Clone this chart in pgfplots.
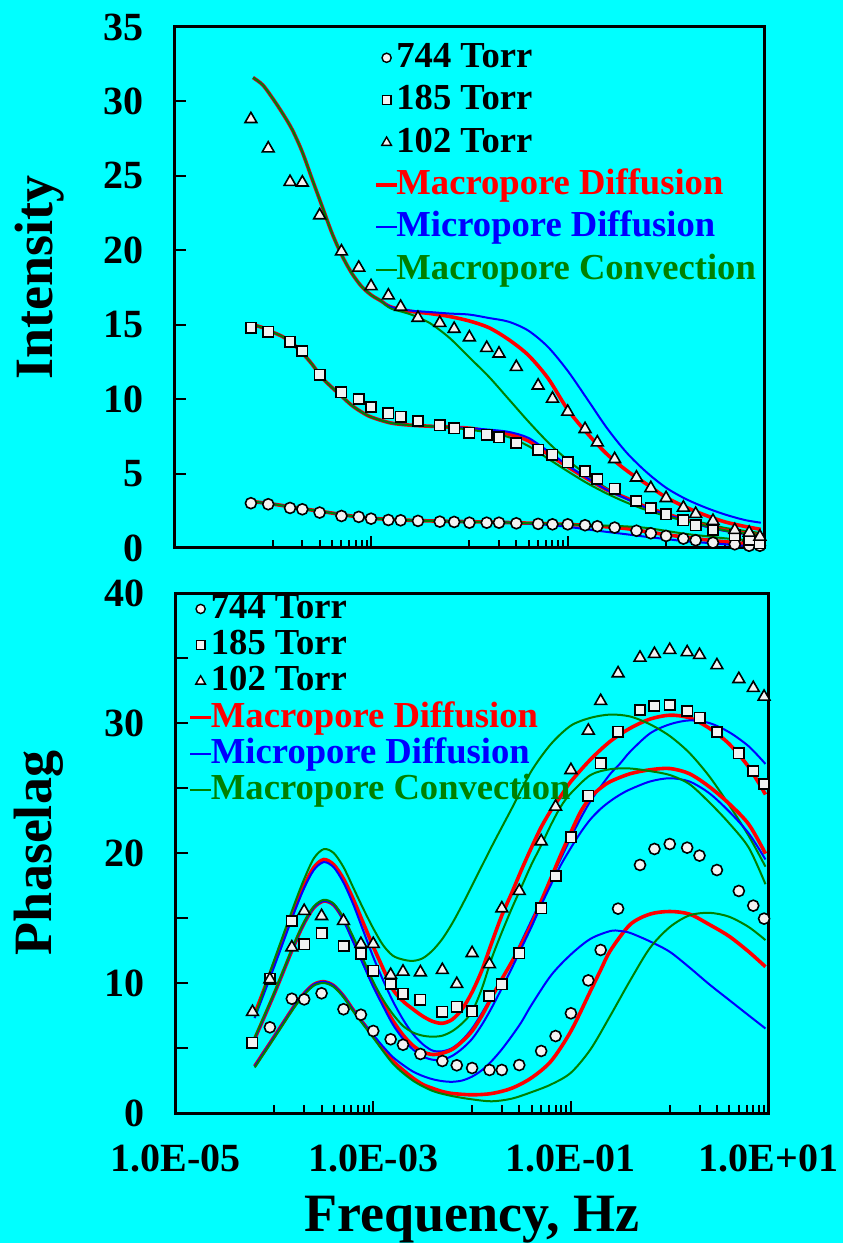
\documentclass[border=0pt]{standalone}
\usepackage{fontspec}
\setmainfont{Liberation Serif}
\usepackage{pgfplots}
\pgfplotsset{compat=1.18}
\definecolor{bgc}{RGB}{0,255,255}
\definecolor{mred}{RGB}{255,0,0}
\definecolor{mblue}{RGB}{0,0,255}
\definecolor{mgreen}{RGB}{0,128,0}
\definecolor{mfill}{RGB}{242,242,242}

\pgfplotsset{
  mk/.style={only marks, mark options={fill=mfill, draw=black, line width=0.8pt}},
  circ/.style={mk, mark=*, mark size=2.75pt},
  sq/.style={mk, mark=square*, mark size=2.6pt},
  tri/.style={mk, mark=triangle*, mark size=3.4pt},
  rl/.style={mred, line width=1.8pt, smooth, no marks, forget plot},
  bl/.style={mblue, line width=1pt, smooth, no marks, forget plot},
  gl/.style={mgreen, line width=1pt, smooth, no marks, forget plot},
  legcirc/.style={legend image code/.code={\draw[fill=mfill, draw=black, line width=0.7pt] (5.25pt,0pt) circle[radius=2.3pt];}},
  legsq/.style={legend image code/.code={\draw[fill=mfill, draw=black, line width=0.7pt] (3.05pt,-2.2pt) rectangle (7.45pt,2.2pt);}},
  legtri/.style={legend image code/.code={\draw[fill=mfill, draw=black, line width=0.7pt] (5.25pt,2.8pt) -- (2.83pt,-1.4pt) -- (7.67pt,-1.4pt) -- cycle;}},
  legred/.style={legend image code/.code={\draw[mred, line width=1.8pt] (0pt,0pt) -- (10.5pt,0pt);}},
  legblue/.style={legend image code/.code={\draw[mblue, line width=1pt] (0pt,0pt) -- (10.5pt,0pt);}},
  leggreen/.style={legend image code/.code={\draw[mgreen, line width=1pt] (0pt,0pt) -- (10.5pt,0pt);}},
}

\begin{document}
\begin{tikzpicture}
\fill[bgc] (-87.8pt,-65pt) rectangle (333.7pt,556.5pt);

% ---------------- Intensity -----------------
\begin{axis}[at={(-0.6pt,282.5pt)}, anchor=south west,
  scale only axis, clip=false,
  width=295pt, height=260.5pt,
  xmode=log, xmin=1e-5, xmax=10,
  axis line style={line width=1.5pt},
  every tick/.style={black, line width=1pt},
  tick align=inside, tick pos=left,
  xtick={1e-5,1e-3,1e-1,10},
  minor xtick={1e-4,2e-4,3e-4,4e-4,5e-4,6e-4,7e-4,8e-4,9e-4,1e-2,2e-2,3e-2,4e-2,5e-2,6e-2,7e-2,8e-2,9e-2,1,2,3,4,5,6,7,8,9},
  major tick length=6pt, minor tick length=4pt,
  ymin=0, ymax=35, ytick={0,5,...,35},
  yticklabels={0,5,10,15,20,25,30,35},
  xticklabels={},
  ticklabel style={font=\fontsize{20}{21}\selectfont\bfseries},
  yticklabel style={xshift=-12pt},
  label style={font=\fontsize{27}{30}\selectfont\bfseries},
  ylabel={Intensity},
  ylabel style={at={(axis description cs:-0.229,0.52)}, anchor=center},
  legend cell align=left,
  legend style={draw=none, fill=none, at={(rel axis cs:0.328,0.981)}, anchor=north west,
    font=\fontsize{18.3}{19}\selectfont\bfseries, row sep=4.7pt,
    nodes={inner xsep=0.5pt, inner ysep=0pt, text height=13pt, text depth=3.5pt},
    /tikz/every odd column/.style={column sep=-1.75pt},
    /tikz/every even column/.style={column sep=0pt}},
]
\addlegendimage{legcirc}
\addlegendentry{744 Torr}
\addlegendimage{legsq}
\addlegendentry{185 Torr}
\addlegendimage{legtri}
\addlegendentry{102 Torr}
\addlegendimage{legred}
\addlegendentry{\textcolor{mred}{Macropore Diffusion}}
\addlegendimage{legblue}
\addlegendentry{\textcolor{mblue}{Micropore Diffusion}}
\addlegendimage{leggreen}
\addlegendentry{\textcolor{mgreen}{Macropore Convection}}

% 102 Torr models
\addplot[rl] coordinates {(6.31e-5,31.6)(7.94e-5,31.1)(1e-4,30.2)(1.26e-4,29.2)(1.58e-4,28.1)(2e-4,26.6)(2.51e-4,24.8)(3.16e-4,23.0)(3.98e-4,21.2)(5.01e-4,19.7)(6.31e-4,18.5)(7.94e-4,17.6)(1e-3,17.0)(1.26e-3,16.6)(1.58e-3,16.2)(2.51e-3,15.9)(3.98e-3,15.75)(6.31e-3,15.55)(1e-2,15.25)(1.58e-2,14.8)(2.51e-2,14.0)(3.98e-2,12.95)(6.31e-2,11.4)(0.1,9.3)(0.158,7.7)(0.251,6.3)(0.398,5.2)(0.631,4.3)(1,3.4)(1.58,2.75)(2.51,2.2)(3.98,1.75)(6.31,1.45)(9.2,1.25)};
\addplot[bl] coordinates {(6.31e-5,31.6)(7.94e-5,31.1)(1e-4,30.2)(1.26e-4,29.2)(1.58e-4,28.1)(2e-4,26.6)(2.51e-4,24.8)(3.16e-4,23.0)(3.98e-4,21.2)(5.01e-4,19.7)(6.31e-4,18.5)(7.94e-4,17.6)(1e-3,17.0)(1.26e-3,16.6)(1.58e-3,16.2)(2.51e-3,15.95)(3.98e-3,15.85)(6.31e-3,15.75)(1e-2,15.68)(1.58e-2,15.45)(2.51e-2,15.2)(3.98e-2,14.6)(6.31e-2,13.5)(0.1,11.9)(0.158,10.0)(0.251,8.05)(0.398,6.4)(0.631,5.1)(1,4.05)(1.58,3.3)(2.51,2.72)(3.98,2.25)(6.31,1.88)(9.2,1.7)};
\addplot[gl] coordinates {(6.31e-5,31.6)(7.94e-5,31.1)(1e-4,30.2)(1.26e-4,29.2)(1.58e-4,28.1)(2e-4,26.6)(2.51e-4,24.8)(3.16e-4,23.0)(3.98e-4,21.2)(5.01e-4,19.7)(6.31e-4,18.5)(7.94e-4,17.6)(1e-3,17.0)(1.26e-3,16.6)(1.58e-3,16.1)(2.51e-3,15.7)(3.98e-3,15.1)(6.31e-3,14.1)(1e-2,12.8)(1.58e-2,11.5)(2.51e-2,10.0)(3.98e-2,8.5)(6.31e-2,7.1)(0.1,5.9)(0.158,4.9)(0.251,4.0)(0.398,3.3)(0.631,2.7)(1,2.3)(1.58,1.95)(2.51,1.65)(3.98,1.35)(6.31,1.15)(9.2,1.0)};
% 185 Torr models
\addplot[rl] coordinates {(6.31e-5,15.0)(7.94e-5,14.8)(1e-4,14.5)(1.26e-4,14.2)(1.58e-4,13.75)(2e-4,13.1)(2.51e-4,12.35)(3.16e-4,11.45)(3.98e-4,10.8)(5.01e-4,10.2)(6.31e-4,9.6)(7.94e-4,9.15)(1e-3,8.8)(1.58e-3,8.4)(2.51e-3,8.25)(3.98e-3,8.18)(6.31e-3,8.12)(1e-2,8.05)(1.58e-2,7.85)(2.51e-2,7.65)(3.98e-2,7.2)(6.31e-2,6.3)(0.1,5.45)(0.158,4.65)(0.251,3.9)(0.398,3.35)(0.631,2.75)(1,2.3)(1.58,1.9)(2.51,1.5)(3.98,1.2)(6.31,1.0)(9.2,0.87)};
\addplot[bl] coordinates {(6.31e-5,15.0)(7.94e-5,14.8)(1e-4,14.5)(1.26e-4,14.2)(1.58e-4,13.75)(2e-4,13.1)(2.51e-4,12.35)(3.16e-4,11.45)(3.98e-4,10.8)(5.01e-4,10.2)(6.31e-4,9.6)(7.94e-4,9.15)(1e-3,8.8)(1.58e-3,8.4)(2.51e-3,8.25)(3.98e-3,8.18)(6.31e-3,8.12)(1e-2,8.05)(1.58e-2,7.95)(2.51e-2,7.8)(3.98e-2,7.4)(6.31e-2,6.5)(0.1,5.55)(0.158,4.7)(0.251,3.9)(0.398,3.3)(0.631,2.7)(1,2.25)(1.58,1.85)(2.51,1.45)(3.98,1.15)(6.31,0.95)(9.2,0.82)};
\addplot[gl] coordinates {(6.31e-5,15.0)(7.94e-5,14.8)(1e-4,14.5)(1.26e-4,14.2)(1.58e-4,13.75)(2e-4,13.1)(2.51e-4,12.35)(3.16e-4,11.45)(3.98e-4,10.8)(5.01e-4,10.2)(6.31e-4,9.6)(7.94e-4,9.15)(1e-3,8.8)(1.58e-3,8.4)(2.51e-3,8.25)(3.98e-3,8.18)(6.31e-3,8.1)(1e-2,7.95)(1.58e-2,7.75)(2.51e-2,7.45)(3.98e-2,6.85)(6.31e-2,6.0)(0.1,5.15)(0.158,4.35)(0.251,3.65)(0.398,3.05)(0.631,2.55)(1,2.15)(1.58,1.8)(2.51,1.5)(3.98,1.18)(6.31,1.0)(9.2,0.87)};
% 744 Torr models
\addplot[rl] coordinates {(6.31e-5,3.12)(1e-4,2.95)(1.58e-4,2.75)(2.51e-4,2.55)(3.98e-4,2.35)(6.31e-4,2.15)(1e-3,2.0)(1.58e-3,1.92)(2.51e-3,1.86)(3.98e-3,1.82)(6.31e-3,1.79)(1e-2,1.77)(1.58e-2,1.74)(2.51e-2,1.71)(3.98e-2,1.67)(6.31e-2,1.63)(0.1,1.58)(0.158,1.52)(0.251,1.42)(0.398,1.3)(0.631,1.1)(1,0.9)(1.58,0.72)(2.51,0.55)(3.98,0.42)(6.31,0.3)(9.2,0.22)};
\addplot[bl] coordinates {(6.31e-5,3.12)(1e-4,2.95)(1.58e-4,2.75)(2.51e-4,2.55)(3.98e-4,2.35)(6.31e-4,2.15)(1e-3,2.0)(1.58e-3,1.92)(2.51e-3,1.86)(3.98e-3,1.82)(6.31e-3,1.79)(1e-2,1.77)(1.58e-2,1.74)(2.51e-2,1.71)(3.98e-2,1.65)(6.31e-2,1.55)(0.1,1.42)(0.158,1.25)(0.251,1.08)(0.398,0.92)(0.631,0.75)(1,0.6)(1.58,0.45)(2.51,0.35)(3.98,0.25)(6.31,0.15)(9.2,0.1)};
\addplot[gl] coordinates {(6.31e-5,3.12)(1e-4,2.95)(1.58e-4,2.75)(2.51e-4,2.55)(3.98e-4,2.35)(6.31e-4,2.15)(1e-3,2.0)(1.58e-3,1.92)(2.51e-3,1.86)(3.98e-3,1.82)(6.31e-3,1.79)(1e-2,1.77)(1.58e-2,1.74)(2.51e-2,1.71)(3.98e-2,1.67)(6.31e-2,1.63)(0.1,1.58)(0.158,1.54)(0.251,1.5)(0.398,1.45)(0.631,1.35)(1,1.15)(1.58,0.95)(2.51,0.8)(3.98,0.65)(6.31,0.55)(9.2,0.48)};

% data
\addplot[circ, forget plot] coordinates {(6e-5,3.01)(9e-5,2.94)(1.5e-4,2.69)(2e-4,2.60)(3e-4,2.38)(5e-4,2.15)(7.5e-4,2.09)(1e-3,1.97)(1.5e-3,1.88)(2e-3,1.86)(3e-3,1.82)(5e-3,1.77)(7e-3,1.75)(1e-2,1.70)(1.5e-2,1.70)(2e-2,1.70)(3e-2,1.66)(5e-2,1.62)(7e-2,1.59)(0.1,1.59)(0.15,1.53)(0.2,1.46)(0.3,1.37)(0.5,1.16)(0.7,0.99)(1,0.81)(1.5,0.63)(2,0.52)(3,0.36)(5,0.25)(7,0.15)(9,0.15)};
\addplot[sq, forget plot] coordinates {(6e-5,14.79)(9e-5,14.54)(1.5e-4,13.87)(2e-4,13.24)(3e-4,11.64)(5e-4,10.45)(7.5e-4,10.01)(1e-3,9.47)(1.5e-3,9.04)(2e-3,8.82)(3e-3,8.53)(5e-3,8.23)(7e-3,8.03)(1e-2,7.74)(1.5e-2,7.61)(2e-2,7.43)(3e-2,7.05)(5e-2,6.60)(7e-2,6.26)(0.1,5.77)(0.15,5.14)(0.2,4.64)(0.3,3.97)(0.5,3.16)(0.7,2.69)(1,2.27)(1.5,1.86)(2,1.53)(3,1.21)(5,0.85)(7,0.54)(9,0.32)};
\addplot[tri, forget plot] coordinates {(6e-5,28.81)(9e-5,26.84)(1.5e-4,24.59)(2e-4,24.55)(3e-4,22.35)(5e-4,19.92)(7.5e-4,18.83)(1e-3,17.59)(1.5e-3,16.96)(2e-3,16.20)(3e-3,15.46)(5e-3,15.12)(7e-3,14.72)(1e-2,14.15)(1.5e-2,13.44)(2e-2,13.06)(3e-2,12.16)(5e-2,10.91)(7e-2,10.03)(0.1,9.15)(0.15,7.99)(0.2,7.09)(0.3,5.97)(0.5,4.73)(0.7,4.02)(1,3.35)(1.5,2.71)(2,2.29)(3,1.82)(5,1.21)(7,1.03)(9,0.76)};
\end{axis}

% ---------------- Phaselag -----------------
\begin{axis}[at={(0pt,0pt)}, anchor=south west,
  scale only axis, clip=false,
  width=296.5pt, height=260pt,
  xmode=log, xmin=1e-5, xmax=10,
  axis line style={line width=1.5pt},
  every tick/.style={black, line width=1pt},
  tick align=inside, tick pos=left,
  xtick={1e-5,1e-3,1e-1,10},
  minor xtick={1e-4,2e-4,3e-4,4e-4,5e-4,6e-4,7e-4,8e-4,9e-4,1e-2,2e-2,3e-2,4e-2,5e-2,6e-2,7e-2,8e-2,9e-2,1,2,3,4,5,6,7,8,9},
  major tick length=6pt, minor tick length=4pt,
  ymin=0, ymax=40, ytick={0,5,...,40}, yticklabels={0,,10,,20,,30,,40},
  xticklabels={1.0E-05,1.0E-03,1.0E-01,1.0E+01},
  ticklabel style={font=\fontsize{20}{21}\selectfont\bfseries},
  yticklabel style={xshift=-12pt},
  xticklabel style={yshift=-12.5pt},
  label style={font=\fontsize{27}{30}\selectfont\bfseries},
  ylabel={Phaselag},
  ylabel style={at={(axis description cs:-0.231,0.5)}, anchor=center},
  xlabel={Frequency, Hz},
  xlabel style={at={(axis description cs:0.5,0)}, yshift=-53.5pt, anchor=center},
  legend cell align=left,
  legend style={draw=none, fill=none, at={(rel axis cs:0.0107,1.0095)}, anchor=north west,
    font=\fontsize{18.3}{19}\selectfont\bfseries, row sep=1.6pt,
    nodes={inner xsep=0.5pt, inner ysep=0pt, text height=13pt, text depth=3.5pt},
    /tikz/every odd column/.style={column sep=-1.5pt},
    /tikz/every even column/.style={column sep=0pt}},
]
\addlegendimage{legcirc}
\addlegendentry{744 Torr}
\addlegendimage{legsq}
\addlegendentry{185 Torr}
\addlegendimage{legtri}
\addlegendentry{102 Torr}
\addlegendimage{legred}
\addlegendentry{\textcolor{mred}{Macropore Diffusion}}
\addlegendimage{legblue}
\addlegendentry{\textcolor{mblue}{Micropore Diffusion}}
\addlegendimage{leggreen}
\addlegendentry{\textcolor{mgreen}{Macropore Convection}}

% upper set
\addplot[rl] coordinates {(6.31e-5,7.6)(1e-4,11.6)(1.58e-4,15.6)(2e-4,17.5)(2.51e-4,18.9)(3.16e-4,19.5)(3.98e-4,19.1)(5.01e-4,18.0)(6.31e-4,16.4)(7.94e-4,14.6)(1e-3,12.8)(1.26e-3,11.1)(1.58e-3,9.5)(2e-3,8.6)(2.51e-3,8.0)(3.16e-3,7.45)(3.98e-3,7.05)(5.01e-3,6.9)(6.31e-3,7.2)(7.94e-3,8.0)(1e-2,9.3)(1.26e-2,11.0)(1.58e-2,13.1)(2e-2,15.2)(2.51e-2,16.9)(3.16e-2,18.7)(3.98e-2,20.4)(5.01e-2,22.0)(6.31e-2,23.3)(7.94e-2,24.4)(0.1,25.5)(0.158,27.2)(0.251,28.6)(0.398,29.6)(0.631,30.3)(1,30.6)(1.58,30.4)(2.51,29.6)(3.98,28.4)(6.31,26.6)(9.3,24.5)};
\addplot[bl] coordinates {(6.31e-5,7.3)(1e-4,11.3)(1.58e-4,15.4)(2e-4,17.3)(2.51e-4,18.7)(3.16e-4,19.3)(3.98e-4,18.9)(5.01e-4,17.7)(6.31e-4,16.0)(7.94e-4,14.0)(1e-3,12.0)(1.26e-3,10.2)(1.58e-3,8.6)(2e-3,7.2)(2.51e-3,6.1)(3.16e-3,5.3)(3.98e-3,4.8)(5.01e-3,4.75)(6.31e-3,5.0)(7.94e-3,5.6)(1e-2,6.5)(1.26e-2,7.7)(1.58e-2,9.0)(2e-2,10.3)(2.51e-2,11.6)(3.16e-2,13.2)(3.98e-2,14.8)(5.01e-2,16.4)(6.31e-2,18.0)(7.94e-2,19.6)(0.1,21.2)(0.126,22.7)(0.158,24.0)(0.2,25.1)(0.251,26.1)(0.316,26.9)(0.398,27.8)(0.631,29.2)(1,29.9)(1.58,30.2)(2.51,30.0)(3.98,29.3)(6.31,28.2)(9.3,26.85)};
\addplot[gl] coordinates {(6.31e-5,7.4)(1e-4,11.8)(1.58e-4,16.0)(2e-4,18.0)(2.51e-4,19.6)(3.16e-4,20.3)(3.98e-4,20.0)(5.01e-4,18.9)(6.31e-4,17.3)(7.94e-4,15.7)(1e-3,14.2)(1.26e-3,12.9)(1.58e-3,12.1)(2e-3,11.8)(2.51e-3,11.7)(3.16e-3,11.9)(3.98e-3,12.5)(5.01e-3,13.4)(6.31e-3,14.6)(7.94e-3,16.0)(1e-2,17.5)(1.58e-2,20.5)(2.51e-2,23.4)(3.98e-2,26.3)(6.31e-2,28.4)(0.1,29.8)(0.158,30.4)(0.251,30.65)(0.398,30.5)(0.631,29.9)(1,29.0)(1.58,27.7)(2.51,25.9)(3.98,23.7)(6.31,21.3)(9.3,18.95)};
% middle set
\addplot[rl] coordinates {(6.31e-5,5.7)(1e-4,9.2)(1.58e-4,12.9)(2e-4,14.6)(2.51e-4,15.8)(3.16e-4,16.3)(3.98e-4,16.0)(5.01e-4,14.9)(6.31e-4,13.3)(7.94e-4,11.6)(1e-3,9.9)(1.26e-3,8.4)(1.58e-3,7.1)(2e-3,6.0)(2.51e-3,5.2)(3.16e-3,4.7)(3.98e-3,4.5)(5.01e-3,4.6)(6.31e-3,4.9)(7.94e-3,5.5)(1e-2,6.3)(1.26e-2,7.5)(1.58e-2,8.9)(2e-2,10.3)(2.51e-2,11.6)(3.16e-2,13.0)(3.98e-2,14.5)(5.01e-2,16.3)(6.31e-2,18.1)(7.94e-2,19.9)(0.1,21.6)(0.126,23.2)(0.158,24.3)(0.2,25.0)(0.251,25.5)(0.398,26.1)(0.631,26.4)(1,26.5)(1.58,26.1)(2.51,25.1)(3.98,23.8)(6.31,22.2)(9.3,19.95)};
\addplot[bl] coordinates {(6.31e-5,5.7)(1e-4,9.2)(1.58e-4,12.9)(2e-4,14.6)(2.51e-4,15.8)(3.16e-4,16.3)(3.98e-4,16.0)(5.01e-4,14.8)(6.31e-4,13.1)(7.94e-4,11.4)(1e-3,9.7)(1.26e-3,8.2)(1.58e-3,6.8)(2e-3,5.7)(2.51e-3,4.9)(3.16e-3,4.35)(3.98e-3,4.1)(5.01e-3,4.1)(6.31e-3,4.4)(7.94e-3,4.95)(1e-2,5.7)(1.26e-2,6.8)(1.58e-2,8.1)(2e-2,9.6)(2.51e-2,11.1)(3.16e-2,12.7)(3.98e-2,14.3)(5.01e-2,16.0)(6.31e-2,17.6)(7.94e-2,19.1)(0.1,20.4)(0.126,21.6)(0.158,22.6)(0.2,23.4)(0.251,24.0)(0.316,24.5)(0.398,24.9)(0.631,25.5)(1,25.75)(1.58,25.5)(2.51,24.6)(3.98,23.2)(6.31,21.5)(9.3,19.5)};
\addplot[gl] coordinates {(6.31e-5,5.8)(1e-4,9.3)(1.58e-4,13.0)(2e-4,14.7)(2.51e-4,15.9)(3.16e-4,16.4)(3.98e-4,16.1)(5.01e-4,15.0)(6.31e-4,13.5)(7.94e-4,11.8)(1e-3,10.1)(1.26e-3,8.7)(1.58e-3,7.6)(2e-3,6.7)(2.51e-3,6.2)(3.16e-3,5.95)(3.98e-3,5.87)(5.01e-3,5.95)(6.31e-3,6.3)(7.94e-3,6.9)(1e-2,7.8)(1.26e-2,9.6)(1.58e-2,11.9)(2e-2,13.9)(2.51e-2,15.7)(3.16e-2,17.4)(3.98e-2,19.1)(5.01e-2,20.6)(6.31e-2,22.2)(7.94e-2,23.6)(0.1,24.6)(0.158,26.0)(0.251,26.45)(0.398,26.5)(0.631,26.3)(1,26.0)(1.58,25.3)(2.51,23.9)(3.98,22.3)(6.31,20.4)(9.3,17.6)};
% lower set
\addplot[rl] coordinates {(6.31e-5,3.6)(1e-4,5.9)(1.58e-4,8.2)(2e-4,9.2)(2.51e-4,9.9)(3.16e-4,10.1)(3.98e-4,9.8)(5.01e-4,9.0)(6.31e-4,7.9)(7.94e-4,6.9)(1e-3,5.9)(1.26e-3,4.9)(1.58e-3,4.0)(2e-3,3.3)(2.51e-3,2.7)(3.16e-3,2.2)(3.98e-3,1.9)(5.01e-3,1.65)(6.31e-3,1.5)(1e-2,1.4)(1.58e-2,1.5)(2.51e-2,1.9)(3.98e-2,2.7)(6.31e-2,4.0)(0.1,6.3)(0.158,9.4)(0.2,11.0)(0.251,12.5)(0.398,14.5)(0.631,15.3)(1,15.5)(1.58,15.3)(2.51,14.5)(3.98,13.6)(6.31,12.4)(9.3,11.25)};
\addplot[bl] coordinates {(6.31e-5,3.6)(1e-4,5.9)(1.58e-4,8.2)(2e-4,9.2)(2.51e-4,9.9)(3.16e-4,10.1)(3.98e-4,9.8)(5.01e-4,9.0)(6.31e-4,7.9)(7.94e-4,6.9)(1e-3,6.0)(1.26e-3,5.1)(1.58e-3,4.3)(2e-3,3.7)(2.51e-3,3.2)(3.16e-3,2.85)(3.98e-3,2.6)(5.01e-3,2.45)(6.31e-3,2.4)(7.94e-3,2.5)(1e-2,2.8)(1.26e-2,3.3)(1.58e-2,4.0)(2e-2,4.9)(2.51e-2,5.9)(3.16e-2,7.0)(3.98e-2,8.3)(6.31e-2,10.6)(0.1,12.2)(0.158,13.4)(0.251,14.0)(0.316,14.0)(0.398,13.85)(0.631,13.2)(1,12.4)(1.58,11.2)(2.51,9.9)(3.98,8.7)(6.31,7.5)(9.3,6.5)};
\addplot[gl] coordinates {(6.31e-5,3.5)(1e-4,5.8)(1.58e-4,8.1)(2e-4,9.1)(2.51e-4,9.8)(3.16e-4,10.0)(3.98e-4,9.7)(5.01e-4,8.9)(6.31e-4,7.8)(7.94e-4,6.8)(1e-3,5.8)(1.58e-3,3.8)(2.51e-3,2.5)(3.98e-3,1.7)(6.31e-3,1.3)(1e-2,1.05)(1.58e-2,0.9)(2.51e-2,1.1)(3.98e-2,1.6)(6.31e-2,2.2)(0.1,3.1)(0.158,4.9)(0.251,7.5)(0.398,10.2)(0.631,12.7)(1,14.3)(1.58,15.2)(2.51,15.4)(3.98,15.1)(6.31,14.3)(9.3,13.3)};

% data
\addplot[circ, forget plot] coordinates {(9e-5,6.59)(1.5e-4,8.79)(2e-4,8.74)(3e-4,9.21)(5e-4,7.98)(7.5e-4,7.56)(1e-3,6.31)(1.5e-3,5.67)(2e-3,5.25)(3e-3,4.54)(5e-3,4.0)(7e-3,3.67)(1e-2,3.46)(1.5e-2,3.31)(2e-2,3.31)(3e-2,3.69)(5e-2,4.77)(7e-2,5.92)(0.1,7.67)(0.15,10.2)(0.2,12.54)(0.3,15.72)(0.5,19.08)(0.7,20.31)(1,20.69)(1.5,20.41)(2,19.8)(3,18.69)(5,17.08)(7,15.95)(9,14.95)};
\addplot[sq, forget plot] coordinates {(6e-5,5.41)(9e-5,10.33)(1.5e-4,14.77)(2e-4,12.98)(3e-4,13.82)(5e-4,12.85)(7.5e-4,12.25)(1e-3,10.95)(1.5e-3,9.92)(2e-3,9.18)(3e-3,8.72)(5e-3,7.79)(7e-3,8.18)(1e-2,7.82)(1.5e-2,9.0)(2e-2,9.9)(3e-2,12.28)(5e-2,15.74)(7e-2,18.23)(0.1,21.2)(0.15,24.41)(0.2,26.9)(0.3,29.33)(0.5,31.0)(0.7,31.31)(1,31.38)(1.5,30.92)(2,30.41)(3,29.31)(5,27.67)(7,26.31)(9,25.31)};
\addplot[tri, forget plot] coordinates {(6e-5,7.77)(9e-5,10.28)(1.5e-4,12.74)(2e-4,15.54)(3e-4,15.15)(5e-4,14.77)(7.5e-4,13.0)(1e-3,13.0)(1.5e-3,10.62)(2e-3,10.87)(3e-3,10.82)(5e-3,11.0)(7e-3,9.92)(1e-2,12.3)(1.5e-2,11.44)(2e-2,15.74)(3e-2,17.08)(5e-2,20.9)(7e-2,23.56)(0.1,26.38)(0.15,29.41)(0.2,31.69)(0.3,33.82)(0.5,35.02)(0.7,35.31)(1,35.62)(1.5,35.44)(2,35.23)(3,34.44)(5,33.38)(7,32.69)(9,32.02)};
\end{axis}
\pgfresetboundingbox
\path[use as bounding box] (-87.8pt,-65pt) rectangle (333.7pt,556.5pt);
\end{tikzpicture}
\end{document}
